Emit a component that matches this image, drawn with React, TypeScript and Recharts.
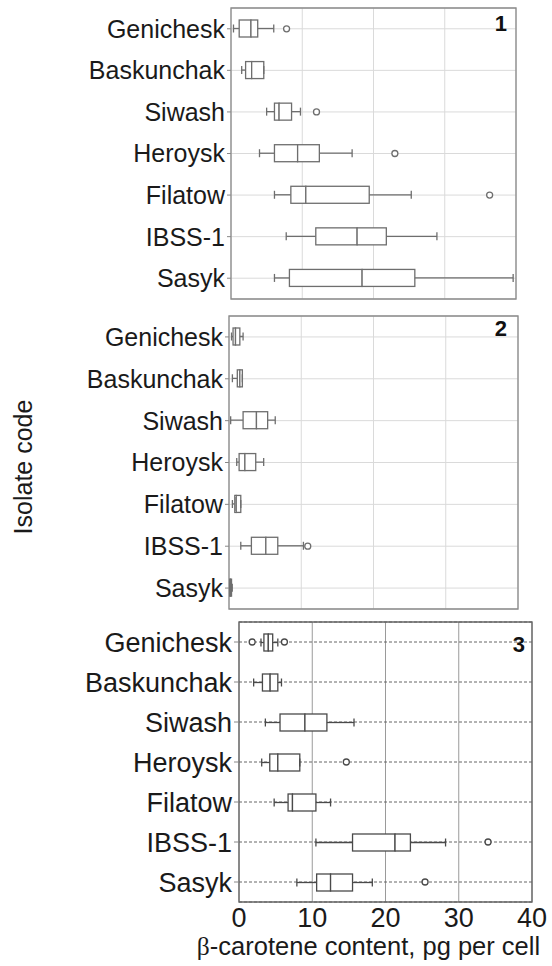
import React from 'react';
import { ComposedChart, Bar, Scatter, XAxis, YAxis, CartesianGrid, ReferenceArea } from 'recharts';

const isolates = ['Genichesk', 'Baskunchak', 'Siwash', 'Heroysk', 'Filatow', 'IBSS-1', 'Sasyk'];
const xTicks = [0, 10, 20, 30, 40];

// [min, q1, median, q3, max] for every isolate
const panel1Stats = [
  [0.35, 1.15, 2.8, 3.75, 6.0],
  [1.5, 2.05, 2.9, 4.6, 4.6],
  [5.0, 6.1, 6.75, 8.5, 9.75],
  [4.0, 6.1, 9.35, 12.4, 17.0],
  [6.1, 8.4, 10.5, 19.4, 25.3],
  [7.75, 11.9, 17.7, 21.8, 28.9],
  [6.1, 8.2, 18.4, 25.8, 39.6],
];
const panel1Outliers = [[7.8], [], [12.0], [23.0], [36.3], [], []];

const panel2Stats = [
  [0.35, 0.56, 0.9, 1.5, 1.95],
  [0.47, 1.15, 1.5, 1.85, 1.85],
  [0.23, 1.95, 3.8, 5.35, 6.4],
  [1.07, 1.4, 2.2, 3.7, 4.8],
  [0.47, 0.8, 1.0, 1.63, 1.63],
  [1.63, 3.1, 5.1, 6.75, 10.3],
  [0.05, 0.1, 0.2, 0.35, 0.45],
];
const panel2Outliers = [[], [], [], [], [], [10.9], []];

const panel3Stats = [
  [3.0, 3.4, 4.0, 4.6, 5.3],
  [2.0, 3.2, 4.25, 5.3, 5.8],
  [3.6, 5.6, 9.0, 12.0, 15.7],
  [3.1, 4.2, 5.3, 8.3, 8.3],
  [4.8, 6.7, 7.3, 10.5, 12.5],
  [10.5, 15.5, 21.3, 23.4, 28.2],
  [7.9, 10.6, 12.5, 15.5, 18.2],
];
const panel3Outliers = [[1.8, 6.2], [], [], [14.65], [], [34.0], [25.4]];

const FONT = '"Liberation Sans", Arial, sans-serif';

// stacked segments: invisible base, lower whisker, two box halves, upper whisker
const buildRows = (stats: number[][], outliers: number[][]) =>
  isolates.map((name, i) => {
    const [mn, q1, md, q3, mx] = stats[i];
    return {
      name,
      base: mn,
      lowW: q1 - mn,
      lowBox: md - q1,
      highBox: q3 - md,
      highW: mx - q3,
      out1: outliers[i][0] ?? null,
      out2: outliers[i][1] ?? null,
    };
  });

const whisker = (color: string, capAtEnd: boolean) => (p: any) => {
  const cy = p.y + p.height / 2;
  const cx = capAtEnd ? p.x + p.width : p.x;
  return (
    <g>
      <line x1={p.x} x2={p.x + p.width} y1={cy} y2={cy} stroke={color} strokeWidth={1.3} />
      <line x1={cx} x2={cx} y1={cy - 4} y2={cy + 4} stroke={color} strokeWidth={1.3} />
    </g>
  );
};

const box = (color: string) => (p: any) => (
  <rect x={p.x} y={p.y} width={Math.max(p.width, 0)} height={p.height} fill="#fff" stroke={color} strokeWidth={1.3} />
);

const dot = (color: string) => (p: any) => {
  if (!Number.isFinite(p.cx) || !Number.isFinite(p.cy)) return <g />;
  return <circle cx={p.cx} cy={p.cy} r={3} fill="#fff" stroke={color} strokeWidth={1.3} />;
};

const noTick = () => <g />;

interface PanelProps {
  rows: any[];
  top: number;
  height: number;
  margin: { top: number; right: number; bottom: number; left: number };
  yWidth: number;
  fontSize: number;
  boxColor: string;
  dark?: boolean;
}

const Panel: React.FC<PanelProps> = ({ rows, top, height, margin, yWidth, fontSize, boxColor, dark }) => (
  <div style={{ position: 'absolute', left: 0, top }}>
    <ComposedChart width={552} height={height} data={rows} layout="vertical" margin={margin} barSize={17}>
      {dark ? (
        <>
          <CartesianGrid horizontal={false} stroke="#9a9a9a" />
          <CartesianGrid vertical={false} stroke="#666" strokeDasharray="3 2" />
        </>
      ) : (
        <CartesianGrid stroke="#dadada" />
      )}
      <XAxis
        type="number"
        domain={[0, 40]}
        ticks={xTicks}
        allowDataOverflow
        height={dark ? 60 : 1}
        axisLine={false}
        tickLine={false}
        tickSize={4}
        tickMargin={2}
        tick={dark ? { fontSize: 27, fill: '#1a1a1a', fontFamily: FONT } : noTick}
        label={
          dark
            ? {
                content: (lp: any) => {
                  const vb = lp.viewBox || { x: 0, y: 0, width: 0 };
                  return (
                    <text x={vb.x + vb.width / 2 - 17} y={vb.y + 53} textAnchor="middle" fontSize={25.5} fill="#1a1a1a" fontFamily={FONT}>
                      <tspan fontFamily='"Liberation Serif", serif'>β</tspan>-carotene content, pg per cell
                    </text>
                  );
                },
              }
            : undefined
        }
      />
      <YAxis
        type="category"
        dataKey="name"
        width={yWidth}
        interval={0}
        axisLine={false}
        tickSize={dark ? 5 : 4}
        tickMargin={2}
        tickLine={{ stroke: '#888' }}
        tick={{ fontSize, fill: '#1a1a1a', fontFamily: FONT }}
      />
      <ReferenceArea x1={0} x2={40} fill="none" stroke={dark ? '#666' : '#8a8a8a'} strokeWidth={1.3} ifOverflow="visible" />
      <Bar dataKey="base" stackId="s" fill="none" isAnimationActive={false} />
      <Bar dataKey="lowW" stackId="s" shape={whisker(boxColor, false)} isAnimationActive={false} />
      <Bar dataKey="lowBox" stackId="s" shape={box(boxColor)} isAnimationActive={false} />
      <Bar dataKey="highBox" stackId="s" shape={box(boxColor)} isAnimationActive={false} />
      <Bar dataKey="highW" stackId="s" shape={whisker(boxColor, true)} isAnimationActive={false} />
      <Scatter dataKey="out1" shape={dot(boxColor)} isAnimationActive={false} />
      <Scatter dataKey="out2" shape={dot(boxColor)} isAnimationActive={false} />
    </ComposedChart>
  </div>
);

export default function App() {
  return (
    <div style={{ position: 'absolute', left: 0, top: 0, width: 552, height: 966, background: '#fff', fontFamily: FONT }}>
      <Panel
        rows={buildRows(panel1Stats, panel1Outliers)}
        top={0}
        height={310}
        margin={{ top: 8, right: 36, bottom: 10, left: 0 }}
        yWidth={231}
        fontSize={25}
        boxColor="#6e6e6e"
      />
      <Panel
        rows={buildRows(panel2Stats, panel2Outliers)}
        top={305}
        height={310}
        margin={{ top: 11, right: 34, bottom: 5, left: 0 }}
        yWidth={229}
        fontSize={25}
        boxColor="#6e6e6e"
      />
      <Panel
        rows={buildRows(panel3Stats, panel3Outliers)}
        top={612}
        height={354}
        margin={{ top: 10, right: 20, bottom: 4, left: 0 }}
        yWidth={239}
        fontSize={27}
        boxColor="#4a4a4a"
        dark
      />
      <svg width={552} height={966} style={{ position: 'absolute', left: 0, top: 0, pointerEvents: 'none' }}>
        <text transform="translate(32,467) rotate(-90)" textAnchor="middle" fontSize={25} fill="#1a1a1a" fontFamily={FONT}>
          Isolate code
        </text>
        <text x={507} y={31} textAnchor="end" fontSize={22} fontWeight="bold" fill="#111" fontFamily={FONT}>1</text>
        <text x={507} y={336} textAnchor="end" fontSize={22} fontWeight="bold" fill="#111" fontFamily={FONT}>2</text>
        <text x={525} y={652} textAnchor="end" fontSize={22} fontWeight="bold" fill="#111" fontFamily={FONT}>3</text>
      </svg>
    </div>
  );
}
